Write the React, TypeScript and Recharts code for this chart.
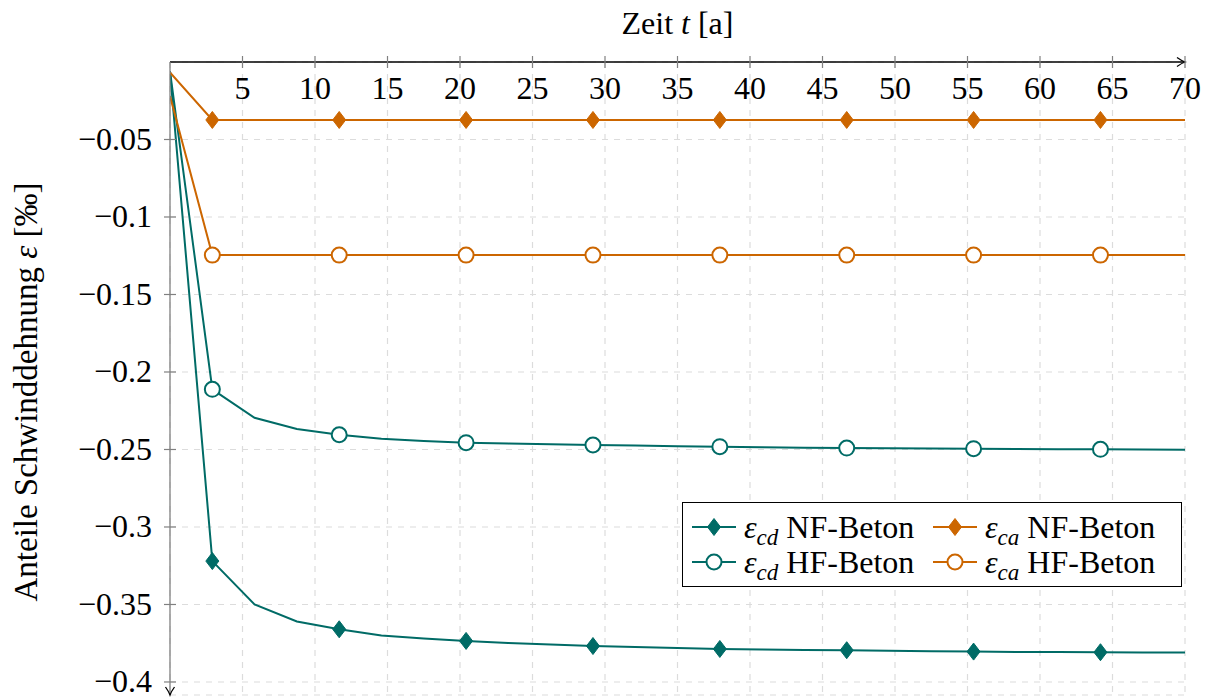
import { LineChart, Line, XAxis, YAxis, CartesianGrid, Label, ReferenceDot } from 'recharts';

const T = [0, 2.92, 5.83, 8.75, 11.67, 14.58, 17.5, 20.42, 23.33, 26.25, 29.17, 32.08, 35, 37.92, 40.83, 43.75, 46.67, 49.58, 52.5, 55.42, 58.33, 61.25, 64.17, 67.08, 70];

// shrinkage components, per mille
const CD_NF = [-0.006, -0.322, -0.35, -0.361, -0.366, -0.37, -0.372, -0.3735, -0.3748, -0.3758, -0.3768, -0.3775, -0.3781, -0.3787, -0.379, -0.3793, -0.3795, -0.3798, -0.3801, -0.3804, -0.3806, -0.3807, -0.3808, -0.3809, -0.381];
const CD_HF = [-0.006, -0.2112, -0.2295, -0.2368, -0.2405, -0.243, -0.2445, -0.2456, -0.2462, -0.2467, -0.2471, -0.2475, -0.2479, -0.2482, -0.2486, -0.2489, -0.2491, -0.2492, -0.2494, -0.2495, -0.2497, -0.2498, -0.2499, -0.25, -0.2501];
const CA_NF = [-0.0068, -0.0374, -0.0374, -0.0374, -0.0374, -0.0374, -0.0374, -0.0374, -0.0374, -0.0374, -0.0374, -0.0374, -0.0374, -0.0374, -0.0374, -0.0374, -0.0374, -0.0374, -0.0374, -0.0374, -0.0374, -0.0374, -0.0374, -0.0374, -0.0374];
const CA_HF = [-0.022, -0.1246, -0.1246, -0.1246, -0.1246, -0.1246, -0.1246, -0.1246, -0.1246, -0.1246, -0.1246, -0.1246, -0.1246, -0.1246, -0.1246, -0.1246, -0.1246, -0.1246, -0.1246, -0.1246, -0.1246, -0.1246, -0.1246, -0.1246, -0.1246];

const X_TICKS = [5, 10, 15, 20, 25, 30, 35, 40, 45, 50, 55, 60, 65, 70];
const Y_TICKS = [-0.4, -0.35, -0.3, -0.25, -0.2, -0.15, -0.1, -0.05];

const TEAL = '#006b66';
const ORANGE = '#cc6600';
const FONT = "'Liberation Serif', 'DejaVu Serif', serif";
const FS = 32;

const data = T.map((t, i) => ({ t, cdNF: CD_NF[i], cdHF: CD_HF[i], caNF: CA_NF[i], caHF: CA_HF[i] }));

const diamond = (cx: number, cy: number, color: string) => (
  <path d={`M${cx},${cy - 8.5}L${cx + 6.5},${cy}L${cx},${cy + 8.5}L${cx - 6.5},${cy}Z`} fill={color} stroke={color} strokeWidth={1} />
);
const circle = (cx: number, cy: number, color: string) => (
  <circle cx={cx} cy={cy} r={7.5} fill="#fff" stroke={color} strokeWidth={2} />
);

const makeDot = (kind: 'd' | 'o', color: string) => (p: any) => {
  const { cx, cy, index } = p;
  if (index % 3 !== 1) return <g key={`n${index}`} />;
  return <g key={`m${index}`}>{kind === 'd' ? diamond(cx, cy, color) : circle(cx, cy, color)}</g>;
};

const XTick = ({ x, y, payload }: any) => (
  <g>
    <line x1={x} x2={x} y1={y - 6} y2={y + 6} stroke="#808080" strokeWidth={1.2} />
    <text x={x} y={y + 37} textAnchor="middle" fontFamily={FONT} fontSize={FS} fill="#000">{payload.value}</text>
  </g>
);

const YTick = ({ x, y, payload }: any) => (
  <g>
    <line x1={x - 6} x2={x + 6} y1={y} y2={y} stroke="#808080" strokeWidth={1.2} />
    <text x={x - 18} y={y + 10.5} textAnchor="end" fontFamily={FONT} fontSize={FS} fill="#000">{`\u2212${Math.abs(payload.value)}`}</text>
  </g>
);

const XTitle = ({ viewBox }: any) => (
  <text x={viewBox.x + viewBox.width / 2} y={34} textAnchor="middle" fontFamily={FONT} fontSize={FS} fill="#000">
    Zeit <tspan fontStyle="italic">t</tspan> [a]
  </text>
);

const YTitle = () => {
  const cx = 37;
  const cy = 392;
  return (
    <text x={cx} y={cy} transform={`rotate(-90, ${cx}, ${cy})`} textAnchor="middle" fontFamily={FONT} fontSize={33} fill="#000">
      Anteile Schwinddehnung <tspan fontStyle="italic">ε</tspan> [‰]
    </text>
  );
};

const arrowRight = ({ cx, cy }: any) => (
  <path d={`M${cx - 8},${cy - 4.5} Q${cx - 3},${cy - 1} ${cx},${cy} Q${cx - 3},${cy + 1} ${cx - 8},${cy + 4.5}`} fill="none" stroke="#000" strokeWidth={1.3} />
);
const arrowDown = ({ cx, cy }: any) => (
  <path d={`M${cx - 4.5},${cy - 8} Q${cx - 1},${cy - 3} ${cx},${cy} Q${cx + 1},${cy - 3} ${cx + 4.5},${cy - 8}`} fill="none" stroke="#000" strokeWidth={1.3} />
);

const legendItems = [
  { sub: 'cd', name: 'NF-Beton', color: TEAL, kind: 'd', col: 0, row: 0 },
  { sub: 'ca', name: 'NF-Beton', color: ORANGE, kind: 'd', col: 1, row: 0 },
  { sub: 'cd', name: 'HF-Beton', color: TEAL, kind: 'o', col: 0, row: 1 },
  { sub: 'ca', name: 'HF-Beton', color: ORANGE, kind: 'o', col: 1, row: 1 },
];

const LegendBox = () => (
  <div style={{ position: 'absolute', left: 682, top: 502, width: 500, height: 85, border: '1.3px solid #000', background: '#fff', boxSizing: 'border-box', fontFamily: FONT, fontSize: FS, color: '#000' }}>
    {legendItems.map((it, i) => {
      const left = it.col === 0 ? 8 : 249;
      const top = it.row === 0 ? 24 : 59;
      return (
        <div key={i}>
          <svg width={46} height={20} style={{ position: 'absolute', left, top: top - 10 }}>
            <line x1={1} x2={45} y1={10} y2={10} stroke={it.color} strokeWidth={2} />
            {it.kind === 'd' ? diamond(23, 10, it.color) : circle(23, 10, it.color)}
          </svg>
          <div style={{ position: 'absolute', left: left + 53, top: top - 18, lineHeight: '36px', whiteSpace: 'nowrap' }}>
            <i>ε</i>
            <span style={{ fontSize: '0.72em', fontStyle: 'italic', position: 'relative', top: '0.3em' }}>{it.sub}</span>
            {' '}{it.name}
          </div>
        </div>
      );
    })}
  </div>
);

export default function App() {
  return (
    <div style={{ position: 'absolute', left: 0, top: 0, width: 1208, height: 699, background: '#fff' }}>
      <LineChart width={1208} height={699} data={data} margin={{ top: 2, right: 23, bottom: 4, left: 0 }}>
        <CartesianGrid strokeDasharray="6 6" stroke="#dcdcdc" strokeWidth={1.2} />
        <XAxis
          type="number"
          dataKey="t"
          orientation="top"
          domain={[0, 70]}
          ticks={X_TICKS}
          height={60}
          tickSize={0}
          tickMargin={0}
          tick={<XTick />}
          axisLine={{ stroke: '#000', strokeWidth: 1.3 }}
          interval={0}
          allowDataOverflow
        >
          <Label content={<XTitle />} />
        </XAxis>
        <YAxis
          type="number"
          domain={[-0.4084, 0]}
          ticks={Y_TICKS}
          width={170}
          tickSize={0}
          tickMargin={0}
          tick={<YTick />}
          axisLine={{ stroke: '#808080', strokeWidth: 1.3 }}
          interval={0}
          allowDataOverflow
        >
          <Label content={<YTitle />} />
        </YAxis>
        <Line type="linear" dataKey="cdNF" stroke={TEAL} strokeWidth={2} dot={makeDot('d', TEAL)} isAnimationActive={false} />
        <Line type="linear" dataKey="cdHF" stroke={TEAL} strokeWidth={2} dot={makeDot('o', TEAL)} isAnimationActive={false} />
        <Line type="linear" dataKey="caNF" stroke={ORANGE} strokeWidth={2} dot={makeDot('d', ORANGE)} isAnimationActive={false} />
        <Line type="linear" dataKey="caHF" stroke={ORANGE} strokeWidth={2} dot={makeDot('o', ORANGE)} isAnimationActive={false} />
        <ReferenceDot x={70} y={0} r={0} shape={arrowRight} ifOverflow="visible" />
        <ReferenceDot x={0} y={-0.4084} r={0} shape={arrowDown} ifOverflow="visible" />
      </LineChart>
      <LegendBox />
    </div>
  );
}
